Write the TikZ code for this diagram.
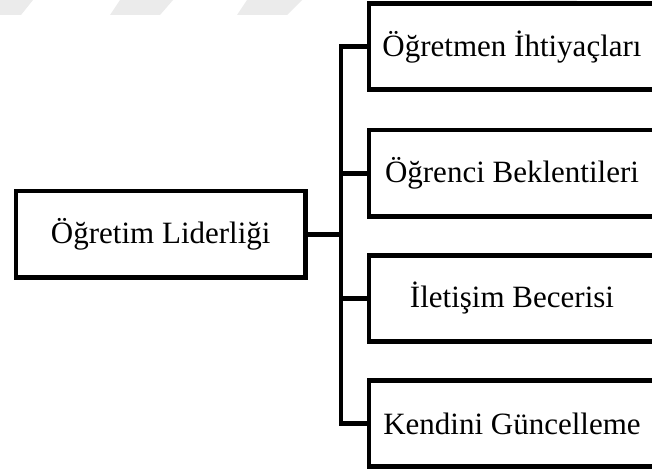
\documentclass[tikz,border=0pt]{standalone}
\usepackage{fontspec}
\setmainfont{Liberation Serif}
\begin{document}
\begin{tikzpicture}[x=1pt,y=-1pt,
  box/.style={draw=black, line width=4.5pt, fill=white, inner sep=0pt,
    font=\fontsize{31}{37}\selectfont, line join=miter},
  leftbox/.style={box, minimum width=289.5pt, minimum height=86.5pt},
  rightbox/.style={box, minimum width=286pt, minimum height=86pt},
  conn/.style={draw=black, line width=4.5pt, line join=miter},
  wmark/.style={fill=black!8, draw=none}]
\useasboundingbox (0,0) rectangle (652,473);
\clip (0,0) rectangle (652,473);
\fill[white] (0,0) rectangle (652,473);
% faint watermark
\path[wmark] (0,0) -- (33,0) -- (21,15) -- (0,15) -- cycle;
\path[wmark] (120,0) -- (173,0) -- (160,15) -- (110,15) -- cycle;
\path[wmark] (247,0) -- (302,0) -- (287,15) -- (237,15) -- cycle;
\path[wmark] (530,0) -- (577,0) -- (575,3) -- (528,3) -- cycle;
% nodes
\node[leftbox] (L) at (160.75,234.25) {Öğretim Liderliği};
\node[rightbox] (b1) at (512,46.75) {Öğretmen İhtiyaçları};
\node[rightbox] (b2) at (512,173.25) {Öğrenci Beklentileri};
\node[rightbox] (b3) at (512,298.5) {İletişim Becerisi};
\node[rightbox] (b4) at (512,423.5) {Kendini Güncelleme};
\coordinate (j) at (341,235);
% connectors
\draw[conn] (L.east) -- (L.east -| j);
\draw[conn] (b1.west) -- (b1.west -| j) -- (b4.west -| j) -- (b4.west);
\draw[conn] (b2.west) -- (b2.west -| j);
\draw[conn] (b3.west) -- (b3.west -| j);
\end{tikzpicture}
\end{document}
